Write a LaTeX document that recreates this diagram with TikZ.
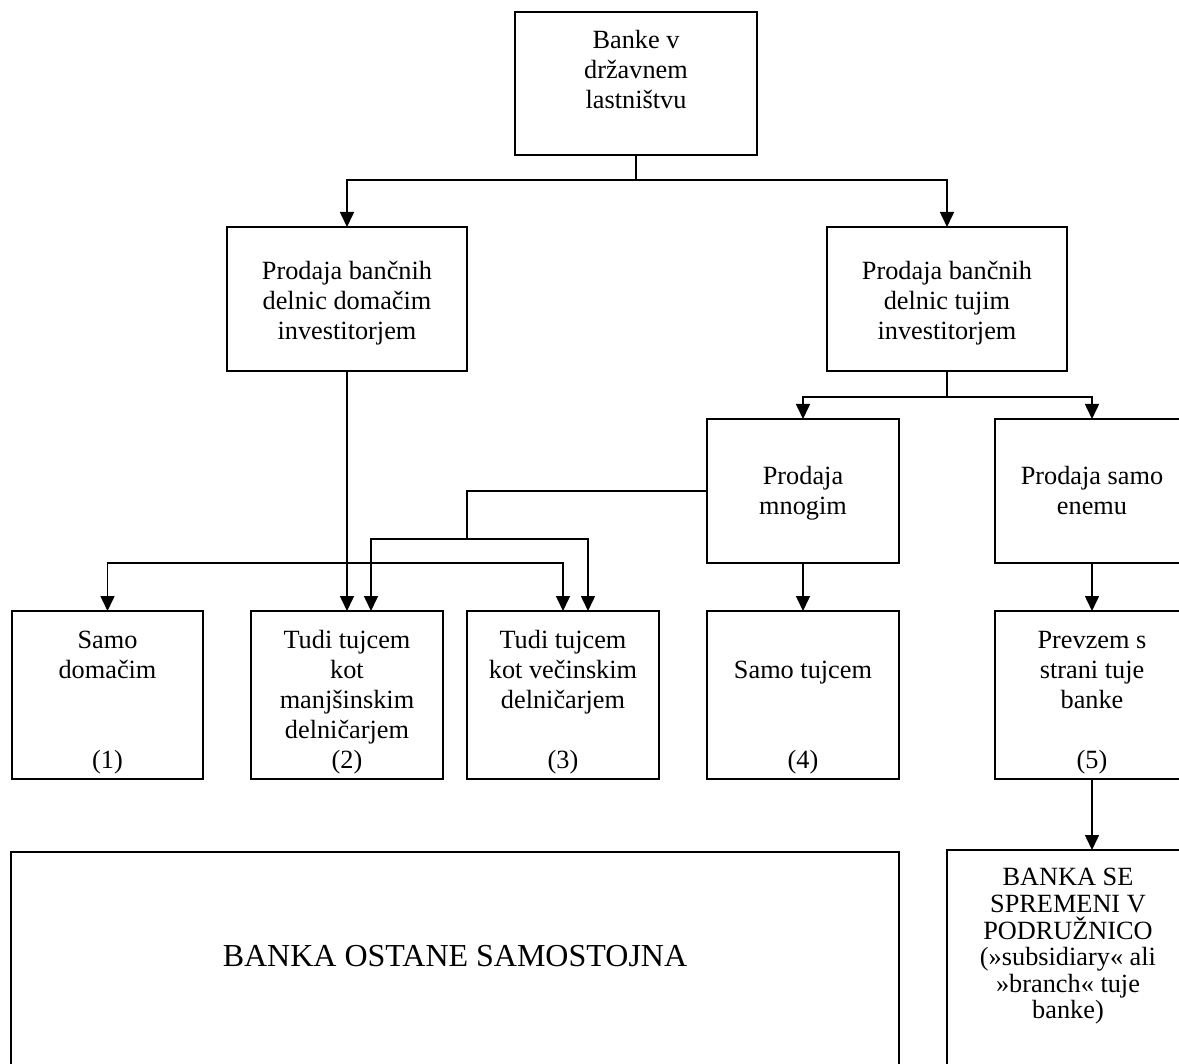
\documentclass[tikz,border=0pt]{standalone}
\usepackage{fontspec}
\setmainfont{Liberation Serif}
\usetikzlibrary{arrows.meta}
\newcommand\nfont{\fontsize{26.3}{30}\selectfont\lineskiplimit=-100pt\relax}
\newcommand\ffont{\fontsize{26.3}{26.6}\selectfont\lineskiplimit=-100pt\relax}
\newcommand\gfont{\fontsize{32}{36}\selectfont}
\begin{document}
\begin{tikzpicture}[x=1pt,y=-1pt,line width=1.6pt,
  box/.style={draw,rectangle,inner sep=0pt,outer sep=0pt},
  txt/.style={align=center,inner sep=0pt,font=\nfont},
  arr/.style={-{Triangle[length=15pt,width=14pt]}}]
\useasboundingbox (0,0) rectangle (1179,1064);
\clip (0,0) rectangle (1179,1064);
% boxes
\node[box,minimum width=242pt,minimum height=143pt] (top) at (636,83.5) {};
\node[box,minimum width=240pt,minimum height=144pt] (dom) at (347,299) {};
\node[box,minimum width=240pt,minimum height=144pt] (for) at (947,299) {};
\node[box,minimum width=192pt,minimum height=144pt] (many) at (803,491) {};
\node[box,minimum width=194pt,minimum height=144pt] (one) at (1092,491) {};
\node[box,minimum width=191pt,minimum height=168pt] (b1) at (107.5,695) {};
\node[box,minimum width=192pt,minimum height=168pt] (b2) at (347,695) {};
\node[box,minimum width=192pt,minimum height=168pt] (b3) at (563,695) {};
\node[box,minimum width=192pt,minimum height=168pt] (b4) at (803,695) {};
\node[box,minimum width=194pt,minimum height=168pt] (b5) at (1092,695) {};
\node[box,minimum width=242pt,minimum height=250pt] (fin) at (1068,975) {};
\node[box,minimum width=888pt,minimum height=248pt] (big) at (455,976) {};
% texts
\node[txt] (topT) at (636,73) {\strut Banke v\\\strut državnem\\\strut lastništvu};
\node[txt] (domT) at (347,304) {\strut Prodaja bančnih\\\strut delnic domačim\\\strut investitorjem};
\node[txt] (forT) at (947,304) {\strut Prodaja bančnih\\\strut delnic tujim\\\strut investitorjem};
\node[txt] (manyT) at (803,494) {\strut Prodaja\\\strut mnogim};
\node[txt] (oneT) at (1092,494) {\strut Prodaja samo\\\strut enemu};
\node[txt] (b1T) at (107.5,702) {\strut Samo\\\strut domačim\\\strut\\\strut\\\strut(1)};
\node[txt] (b2T) at (347,702) {\strut Tudi tujcem\\\strut kot\\\strut manjšinskim\\\strut delničarjem\\\strut(2)};
\node[txt] (b3T) at (563,702) {\strut Tudi tujcem\\\strut kot večinskim\\\strut delničarjem\\\strut\\\strut(3)};
\node[txt] (b4T) at (803,702) {\strut\\\strut Samo tujcem\\\strut\\\strut\\\strut(4)};
\node[txt] (b5T) at (1092,702) {\strut Prevzem s\\\strut strani tuje\\\strut banke\\\strut\\\strut(5)};
\node[txt,font=\ffont] (finT) at (1068,947) {\strut BANKA SE\\\strut SPREMENI V\\\strut PODRUŽNICO\\\strut(»subsidiary« ali\\\strut»branch« tuje\\\strut banke)};
\node[txt,font=\gfont] (bigT) at (455,959) {\strut BANKA OSTANE SAMOSTOJNA};
% connectors
\coordinate (j1) at (636,180);
\draw (top.south) -- (j1);
\draw[arr] (j1) -| (dom.north);
\draw[arr] (j1) -| (for.north);
\coordinate (j2) at (947,397);
\draw (for.south) -- (j2);
\draw[arr] (j2) -| (many.north);
\draw[arr] (j2) -| (one.north);
\draw[arr] (dom.south) -- (b2.north);
\coordinate (j3) at (347,563);
\draw[arr] (j3) -| (b1.north);
\draw[arr] (j3) -| (b3.north);
\coordinate (j4) at (467,539);
\draw (many.west) -| (j4);
\draw[arr] (j4) -| ([xshift=24pt]b2.north);
\draw[arr] (j4) -| ([xshift=25pt]b3.north);
\draw[arr] (many.south) -- (b4.north);
\draw[arr] (one.south) -- (b5.north);
\draw[arr] (b5.south) -- (b5.south |- fin.north);
\end{tikzpicture}
\end{document}
